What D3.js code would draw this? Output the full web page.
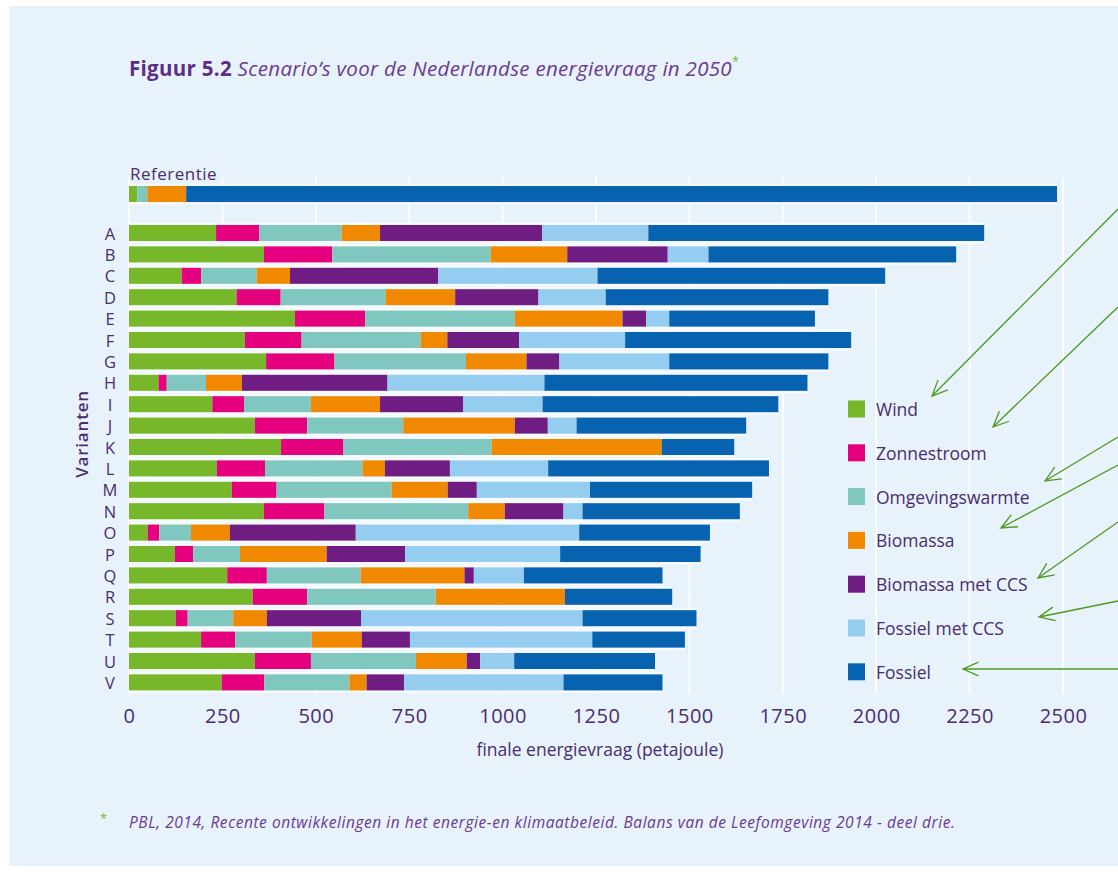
<!DOCTYPE html>
<html>
<head>
<meta charset="utf-8">
<script src="https://cdn.jsdelivr.net/npm/d3@7"></script>
<style>
  body { margin: 0; background: #fff; }
  svg { display: block; }
  text { font-family: "Open Sans", sans-serif; }
</style>
</head>
<body>
<svg id="chart" width="1118" height="872"></svg>
<script>
// rows: reference scenario + variants A..V
const rows = ["Referentie", "A", "B", "C", "D", "E", "F", "G", "H", "I", "J", "K",
  "L", "M", "N", "O", "P", "Q", "R", "S", "T", "U", "V"];
const variants = rows.slice(1);

const series = ["Wind", "Zonnestroom", "Omgevingswarmte", "Biomassa",
  "Biomassa met CCS", "Fossiel met CCS", "Fossiel"];

// petajoule per energy source, one value per row (Ref, A..V)
const wind        = [22, 233, 361, 141, 288, 444, 310, 367, 79, 223, 337, 407, 235, 275, 361, 50, 123, 263, 331, 125, 193, 337, 248];
const zon         = [0, 116, 183, 52, 118, 188, 152, 183, 22, 85, 140, 167, 129, 120, 162, 31, 49, 106, 146, 32, 91, 150, 114];
const omgeving    = [27, 220, 424, 149, 281, 401, 319, 352, 105, 179, 257, 397, 261, 308, 385, 85, 125, 251, 344, 122, 205, 281, 228];
const biomassa    = [104, 103, 205, 89, 186, 288, 71, 162, 96, 185, 299, 455, 60, 150, 98, 104, 232, 278, 346, 90, 134, 136, 46];
const biomassaCCS = [0, 434, 269, 397, 223, 63, 192, 88, 390, 223, 88, 0, 174, 78, 157, 337, 210, 25, 0, 252, 129, 36, 100];
const fossielCCS  = [0, 284, 109, 426, 180, 62, 284, 294, 420, 212, 77, 0, 263, 303, 51, 598, 415, 134, 0, 593, 488, 91, 427];
const fossiel     = [2331, 899, 663, 770, 596, 390, 605, 426, 704, 631, 454, 194, 591, 434, 421, 350, 376, 371, 287, 305, 248, 377, 265];

const xTicks = [0, 250, 500, 750, 1000, 1250, 1500, 1750, 2000, 2250, 2500];

const colors = ["#76b82a", "#e5007d", "#80c7bf", "#f08800", "#6f1d82", "#94cdef", "#0763b0"];
const textColor = "#4a2d6c";

const values = [wind, zon, omgeving, biomassa, biomassaCCS, fossielCCS, fossiel];
const table = rows.map((r, i) => {
  const o = { row: r };
  series.forEach((s, k) => { o[s] = values[k][i]; });
  return o;
});
const stacked = d3.stack().keys(series)(table);

const svg = d3.select("#chart");

// light blue panel
svg.append("rect")
  .attr("x", 9).attr("y", 6)
  .attr("width", 1109).attr("height", 860)
  .attr("fill", "#e7f2fb");

const x = d3.scaleLinear().domain([0, 2500]).range([129, 1063]);
const y = d3.scaleBand()
  .domain(variants)
  .range([222.3, 693.1])
  .paddingInner(0.25)
  .paddingOuter(0.125);
const bw = y.bandwidth();
const refY = 186;
const yPos = r => r === "Referentie" ? refY : y(r);

// gridlines
svg.append("g").selectAll("line")
  .data(xTicks)
  .enter().append("line")
  .attr("x1", d => x(d)).attr("x2", d => x(d))
  .attr("y1", 177).attr("y2", 694)
  .attr("stroke", "#fbfdff")
  .attr("stroke-width", 2);

// soft white halo behind every bar
svg.append("g").selectAll("rect")
  .data(table)
  .enter().append("rect")
  .attr("x", x(0))
  .attr("y", d => yPos(d.row) - 2.5)
  .attr("width", d => x(d3.sum(series, s => d[s])) - x(0))
  .attr("height", bw + 5)
  .attr("fill", "#f6fafd");

// stacked bars
svg.append("g").selectAll("g")
  .data(stacked)
  .enter().append("g")
  .attr("fill", (d, i) => colors[i])
  .selectAll("rect")
  .data(d => d.filter(p => p[1] > p[0]))
  .enter().append("rect")
  .attr("x", d => x(d[0]))
  .attr("y", d => yPos(d.data.row))
  .attr("width", d => x(d[1]) - x(d[0]))
  .attr("height", bw);

// row labels
svg.append("text")
  .attr("x", 130).attr("y", 173)
  .attr("dominant-baseline", "central")
  .attr("font-size", 17)
  .attr("letter-spacing", 0.5)
  .attr("fill", textColor)
  .text("Referentie");

svg.append("g").selectAll("text")
  .data(variants)
  .enter().append("text")
  .attr("x", 110)
  .attr("y", d => y(d) + bw / 2)
  .attr("text-anchor", "middle")
  .attr("dominant-baseline", "central")
  .attr("font-size", 16.5)
  .attr("fill", textColor)
  .text(d => d);

svg.append("text")
  .attr("transform", "translate(81,434) rotate(-90)")
  .attr("text-anchor", "middle")
  .attr("dominant-baseline", "central")
  .attr("font-size", 17)
  .attr("letter-spacing", 0.8)
  .attr("font-weight", 600)
  .attr("fill", textColor)
  .text("Varianten");

// x axis
const xAxis = svg.append("g")
  .attr("transform", "translate(0,709)")
  .call(d3.axisBottom(x).tickValues(xTicks).tickFormat(d3.format("d")).tickSize(0).tickPadding(0));
xAxis.select(".domain").remove();
xAxis.selectAll("text")
  .attr("font-family", "Open Sans, sans-serif")
  .attr("font-size", 20)
  .attr("letter-spacing", 0.5)
  .attr("fill", textColor);

svg.append("text")
  .attr("x", 600).attr("y", 749)
  .attr("text-anchor", "middle")
  .attr("dominant-baseline", "central")
  .attr("font-size", 17.5)
  .attr("fill", textColor)
  .text("finale energievraag (petajoule)");

// legend
const legend = svg.append("g").selectAll("g")
  .data(series)
  .enter().append("g")
  .attr("transform", (d, i) => `translate(848,${409 + i * 43.8})`);
legend.append("rect")
  .attr("x", 0).attr("y", -8.5)
  .attr("width", 17).attr("height", 17)
  .attr("fill", (d, i) => colors[i]);
legend.append("text")
  .attr("x", 28).attr("y", 0)
  .attr("dominant-baseline", "central")
  .attr("font-size", 17.5)
  .attr("fill", textColor)
  .text(d => d);

// title
const title = svg.append("text")
  .attr("x", 129).attr("y", 68)
  .attr("dominant-baseline", "central")
  .attr("font-size", 20.5)
  .attr("letter-spacing", 0.3)
  .attr("fill", "#5e2d86");
title.append("tspan").attr("font-weight", 700).text("Figuur 5.2 ");
title.append("tspan").attr("font-style", "italic").attr("fill", "#6a3b8f")
  .text("Scenario\u2019s voor de Nederlandse energievraag in 2050");
title.append("tspan").attr("fill", "#76b82a").attr("font-size", 13).attr("dy", -7).text("*");

// footnote
svg.append("text")
  .attr("x", 100).attr("y", 818)
  .attr("dominant-baseline", "central")
  .attr("font-size", 13)
  .attr("fill", "#76b82a")
  .text("*");
svg.append("text")
  .attr("x", 129).attr("y", 822)
  .attr("dominant-baseline", "central")
  .attr("font-size", 15.5)
  .attr("letter-spacing", 0.55)
  .attr("font-style", "italic")
  .attr("fill", "#6a3b8f")
  .text("PBL, 2014, Recente ontwikkelingen in het energie-en klimaatbeleid. Balans van de Leefomgeving 2014 - deel drie.");

// green annotation arrows pointing at the legend
const arrows = [
  [[1118, 209], [932, 396]],
  [[1118, 307], [993, 427]],
  [[1118, 437], [1045, 481]],
  [[1118, 465], [1001, 528]],
  [[1118, 522], [1038, 578]],
  [[1118, 601], [1039, 617]],
  [[1118, 669], [963, 669]]
];
const arrowPath = ([s, t]) => {
  const a = Math.atan2(s[1] - t[1], s[0] - t[0]);
  const len = 17, spread = 0.42;
  const p1 = [t[0] + len * Math.cos(a + spread), t[1] + len * Math.sin(a + spread)];
  const p2 = [t[0] + len * Math.cos(a - spread), t[1] + len * Math.sin(a - spread)];
  return `M${s[0]},${s[1]}L${t[0]},${t[1]}M${p1[0]},${p1[1]}L${t[0]},${t[1]}L${p2[0]},${p2[1]}`;
};
svg.append("g").selectAll("path")
  .data(arrows)
  .enter().append("path")
  .attr("d", arrowPath)
  .attr("fill", "none")
  .attr("stroke", "#4f9a1f")
  .attr("stroke-width", 1.3);
</script>
</body>
</html>
